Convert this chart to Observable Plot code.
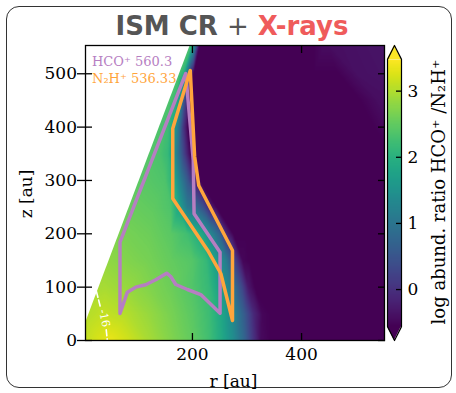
<!DOCTYPE html>
<html><head><meta charset="utf-8">
<script src="https://cdn.jsdelivr.net/npm/d3@7"></script>
<script src="https://cdn.jsdelivr.net/npm/@observablehq/plot@0.6"></script>
<style>
html,body{margin:0;padding:0;background:#fff;}
#fig{position:relative;width:456px;height:393px;overflow:hidden;background:#fff;}
#border{position:absolute;left:6px;top:6px;width:444px;height:380px;border:1.2px solid #333;border-radius:13px;}
#title{position:absolute;left:4px;top:13px;width:456px;text-align:center;font-family:"DejaVu Sans",sans-serif;font-weight:bold;font-size:26px;line-height:26px;color:#555;white-space:nowrap;}
#fig svg{position:absolute;top:0;}
</style></head><body>
<div id="fig"><div id="border"></div><div id="title">ISM CR <span style="font-weight:normal">+</span> <span style="color:#ef5b5b">X-rays</span></div></div>
<script>
// ---- axes / scales ----
const rDomain = [4, 552];
const zDomain = [0, 553];
const xTicks = [200, 400];
const yTicks = [0, 100, 200, 300, 400, 500];
const cMin = -0.56, cMax = 3.48;
const cbTicks = [0, 1, 2, 3];
const xLabel = "r [au]";
const yLabel = "z [au]";
const cbLabel = "log abund. ratio HCO⁺ /N₂H⁺";
const hcoLabel = "HCO⁺ 560.3";
const n2hLabel = "N₂H⁺ 536.33";
const hcoColor = "#b67ec2";
const n2hColor = "#ffa53c";

// ---- field samples: rows of constant z ----
const rowZ = [0, 50, 100, 150, 200, 250, 300, 350, 400, 450, 500, 560];
const rowR = [
  [0, 30, 50, 80, 120, 160, 200, 230, 255, 275, 295, 310, 325, 345, 450, 560],
  [0, 40, 80, 120, 160, 200, 230, 255, 275, 295, 312, 328, 345, 450, 560],
  [0, 40, 80, 120, 160, 200, 230, 255, 270, 290, 302, 315, 450, 560],
  [0, 40, 80, 120, 160, 200, 225, 245, 262, 280, 292, 305, 450, 560],
  [0, 60, 80, 120, 160, 190, 217, 235, 250, 262, 275, 300, 450, 560],
  [0, 80, 100, 130, 160, 175, 190, 205, 220, 232, 245, 450, 560],
  [0, 100, 120, 150, 165, 178, 192, 205, 215, 300, 450, 560],
  [0, 120, 140, 155, 165, 175, 185, 195, 205, 300, 450, 560],
  [0, 140, 155, 165, 175, 183, 192, 300, 450, 530, 560],
  [0, 158, 170, 178, 186, 195, 300, 450, 505, 540, 560],
  [0, 176, 184, 190, 196, 202, 300, 420, 465, 500, 560],
  [0, 199, 204, 209, 214, 300, 420, 445, 560]
];
const rowV = [
  [3.1, 3.25, 3.35, 3.2, 2.95, 2.72, 2.5, 2.25, 1.85, 1.4, 0.75, 0.1, -0.45, -0.56, -0.56, -0.56],
  [3.0, 3.12, 3.02, 2.85, 2.66, 2.45, 2.22, 1.8, 1.3, 0.6, -0.1, -0.5, -0.56, -0.56, -0.56],
  [2.9, 2.95, 2.85, 2.72, 2.58, 2.38, 2.15, 1.6, 1.2, 0.35, -0.3, -0.56, -0.56, -0.56],
  [2.8, 2.82, 2.72, 2.64, 2.52, 2.4, 2.15, 1.65, 1.1, 0.1, -0.5, -0.56, -0.56, -0.56],
  [2.7, 2.68, 2.64, 2.58, 2.45, 2.25, 1.85, 1.25, 0.7, -0.1, -0.56, -0.56, -0.56, -0.56],
  [2.55, 2.55, 2.53, 2.48, 2.35, 1.8, 1.1, 0.85, 0.4, -0.2, -0.56, -0.56, -0.56],
  [2.45, 2.45, 2.42, 2.35, 2.0, 1.2, 0.5, -0.3, -0.56, -0.56, -0.56, -0.56],
  [2.4, 2.4, 2.32, 2.15, 1.6, 0.9, 0.2, -0.45, -0.56, -0.56, -0.56, -0.56],
  [2.35, 2.35, 2.22, 1.8, 1.0, 0.1, -0.56, -0.56, -0.56, -0.56, -0.45],
  [2.35, 2.35, 2.1, 1.3, 0.3, -0.56, -0.56, -0.56, -0.56, -0.42, -0.38],
  [2.3, 2.3, 2.0, 1.0, 0.0, -0.56, -0.56, -0.56, -0.56, -0.4, -0.36],
  [2.3, 2.3, 1.5, 0.4, -0.56, -0.56, -0.56, -0.42, -0.34]
];

// ---- disk surface (edge of the model domain) ----
const wedgeZ = [0, 560];
const wedgeR = [-8, 198.6];

// ---- emitting-region outlines ----
const hcoR = [187.7, 67.2, 67.2, 80.7, 96, 114.3, 132.7, 152.8, 160.2, 169.4, 190.8, 215.2, 250.6, 250.6, 203, 201.5];
const hcoZ = [500.6, 184.3, 50.6, 90.6, 100, 104.4, 113.8, 126.2, 120, 105, 95.6, 86.2, 51.2, 165.6, 237.6, 337.5];
const n2hR = [196, 163.9, 163.9, 174.9, 228, 252, 273.4, 273.4, 211.6, 204];
const n2hZ = [506, 397.5, 266, 249.4, 168.8, 125.6, 37.5, 168.8, 290.6, 345];

// ---- dashed "-16" contour ----
const contourR = [[24, 31], [42, 44]];
const contourZ = [[92, 64], [20, 0]];
const contourLabel = {r: 38.5, z: 42, text: "-16"};

// ---- build tables ----
const samples = rowZ.flatMap((z, i) => rowR[i].map((r, j) => ({r, z, v: rowV[i][j]})));
const wedge = wedgeZ.map((z, i) => ({z, r: wedgeR[i]}));
const hco = hcoR.map((r, i) => ({r, z: hcoZ[i]}));
const n2h = n2hR.map((r, i) => ({r, z: n2hZ[i]}));
const contour = contourR.flatMap((seg, s) => seg.map((r, i) => ({r, z: contourZ[s][i], seg: s})));

const colorOpts = {type: "linear", scheme: "viridis", domain: [cMin, cMax], clamp: true};
const baseStyle = {fontFamily: "'DejaVu Serif', serif", fontSize: "17px", color: "#000", background: "transparent", overflow: "visible"};

const main = Plot.plot({
  width: 456, height: 393,
  marginLeft: 85, marginRight: 72, marginTop: 45, marginBottom: 53,
  x: {domain: rDomain},
  y: {domain: zDomain},
  color: colorOpts,
  style: baseStyle,
  marks: [
    Plot.raster(samples, {x: "r", y: "z", fill: "v", interpolate: "barycentric"}),
    Plot.areaX(wedge, {y: "z", x1: rDomain[0] - 30, x2: "r", fill: "white", clip: true}),
    Plot.line(contour, {x: "r", y: "z", z: "seg", stroke: "white", strokeWidth: 1.6, strokeDasharray: "6,3", clip: true}),
    Plot.text([contourLabel], {x: "r", y: "z", text: "text", rotate: 78, fill: "white", fontSize: 11}),
    Plot.line(hco, {x: "r", y: "z", curve: "linear-closed", stroke: hcoColor, strokeWidth: 3.5}),
    Plot.line(n2h, {x: "r", y: "z", curve: "linear-closed", stroke: n2hColor, strokeWidth: 3.5}),
    Plot.text([hcoLabel], {text: d => d, frameAnchor: "top-left", dx: 6.5, dy: 11.5, lineAnchor: "top", textAnchor: "start", fill: hcoColor, fontSize: 13}),
    Plot.text([n2hLabel], {text: d => d, frameAnchor: "top-left", dx: 6.5, dy: 28, lineAnchor: "top", textAnchor: "start", fill: n2hColor, fontSize: 13}),
    Plot.frame({stroke: "#000", strokeWidth: 1.3}),
    Plot.axisX({anchor: "bottom", ticks: xTicks, tickSize: -7, tickPadding: 14, strokeWidth: 1.3, label: null}),
    Plot.axisX({anchor: "top", ticks: xTicks, tickSize: -7, fill: "none", strokeWidth: 1.3, label: null}),
    Plot.axisY({anchor: "left", ticks: yTicks, tickSize: 8, tickPadding: 0.5, strokeWidth: 1.3, label: null}),
    Plot.axisY({anchor: "left", ticks: yTicks, tickSize: -7, fill: "none", strokeWidth: 1.3, label: null}),
    Plot.axisY({anchor: "right", ticks: yTicks, tickSize: -7, fill: "none", strokeWidth: 1.3, label: null}),
    Plot.text([xLabel], {text: d => d, frameAnchor: "bottom", dx: -1.5, dy: 34, lineAnchor: "top", textAnchor: "middle"}),
    Plot.text([yLabel], {text: d => d, frameAnchor: "left", dx: -59, dy: 1, rotate: -90, textAnchor: "middle"})
  ]
});

// ---- colorbar ----
const ext = 0.21;
const cbarTop = [{x: 0, y: cMax}, {x: 0.5, y: cMax + ext}, {x: 1, y: cMax}];
const cbarBot = [{x: 0, y: cMin}, {x: 0.5, y: cMin - ext}, {x: 1, y: cMin}];
const outline = [{x: 0, y: cMin}, {x: 0, y: cMax}, {x: 0.5, y: cMax + ext}, {x: 1, y: cMax}, {x: 1, y: cMin}, {x: 0.5, y: cMin - ext}, {x: 0, y: cMin}];

const cb = Plot.plot({
  width: 69, height: 393,
  marginLeft: 0, marginRight: 55, marginTop: 45, marginBottom: 53,
  x: {domain: [0, 1], axis: null},
  y: {domain: [cMin - ext, cMax + ext]},
  color: colorOpts,
  style: baseStyle,
  marks: [
    Plot.raster({x1: 0, x2: 1, y1: cMin, y2: cMax, width: 1, height: 270, fill: (x, y) => y, imageRendering: "auto"}),
    Plot.areaY(cbarTop, {x: "x", y1: cMax, y2: "y", fill: () => cMax}),
    Plot.areaY(cbarBot, {x: "x", y1: cMin, y2: "y", fill: () => cMin}),
    Plot.line(outline, {x: "x", y: "y", stroke: "#000", strokeWidth: 1.2}),
    Plot.axisY({anchor: "right", ticks: cbTicks, tickSize: -6, fill: "none", strokeWidth: 1.3, label: null}),
    Plot.axisY({anchor: "right", ticks: cbTicks, tickSize: 0, tickPadding: 6, tickFormat: d => String(d), label: null}),
    Plot.text([cbLabel], {text: d => d, frameAnchor: "right", dx: 38, dy: -1, rotate: -90, textAnchor: "middle", fontSize: 18})
  ]
});
cb.style.left = "387px";

const fig = document.getElementById("fig");
fig.insertBefore(main, document.getElementById("title"));
fig.appendChild(cb);
</script>
</body></html>
